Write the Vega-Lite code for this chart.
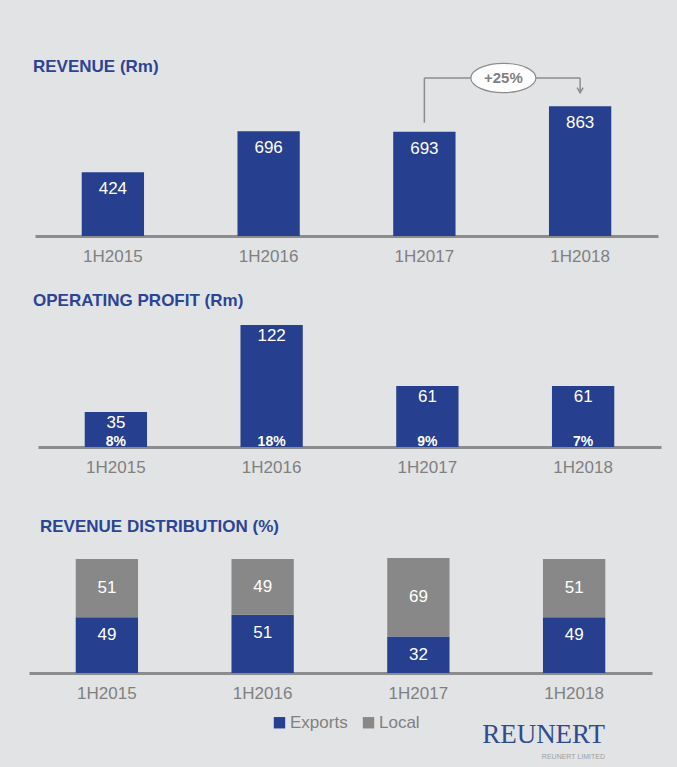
{
  "$schema": "https://vega.github.io/schema/vega-lite/v6.json",
  "background": "#e2e3e5",
  "padding": {"left": 29, "top": 58, "right": 20, "bottom": 10},
  "spacing": 26,
  "title": {
    "text": "REUNERT",
    "subtitle": "REUNERT LIMITED",
    "orient": "bottom",
    "anchor": "end",
    "frame": "bounds",
    "font": "Liberation Serif",
    "fontSize": 27,
    "fontWeight": "normal",
    "color": "#2e4c8f",
    "subtitleFont": "Liberation Sans",
    "subtitleFontSize": 7,
    "subtitleColor": "#a0a0a0",
    "subtitlePadding": 4,
    "baseline": "top",
    "offset": -9,
    "dx": -56
  },
  "config": {
    "font": "Liberation Sans",
    "view": {"stroke": null},
    "axisX": {"title": null, "domainColor": "#8c8c8c", "domainWidth": 3, "ticks": false, "labelColor": "#808080", "labelFontSize": 17, "labelFont": "Liberation Sans", "labelPadding": 12, "labelAngle": 0, "grid": false},
    "axisY": {"grid": false},
    "title": {"anchor": "start", "frame": "group", "baseline": "alphabetic", "offset": 0, "fontSize": 17, "fontWeight": "bold", "color": "#2b4594", "font": "Liberation Sans"},
    "legend": {"orient": "bottom", "direction": "horizontal", "symbolType": "square", "symbolSize": 130, "symbolStrokeWidth": 0, "labelFontSize": 17, "labelColor": "#808080", "labelFont": "Liberation Sans", "labelOffset": 2, "columnPadding": 12, "offset": 13, "layout": {"bottom": {"anchor": "middle"}}}
  },
  "vconcat": [
    {
      "width": 632,
      "height": 178,
      "title": {"text": "REVENUE (Rm)", "dx": 4, "dy": 22},
      "data": {"values": [
        {"period": "1H2015", "revenue": 424},
        {"period": "1H2016", "revenue": 696},
        {"period": "1H2017", "revenue": 693},
        {"period": "1H2018", "revenue": 863}
      ]},
      "layer": [
        {
          "mark": {"type": "bar", "color": "#263f8e"},
          "encoding": {
            "x": {"field": "period", "type": "nominal", "title": null, "scale": {"paddingInner": 0.6, "paddingOuter": 0.3, "range": [6, 629]}},
            "y": {"field": "revenue", "type": "quantitative", "scale": {"domain": [0, 1184], "nice": false}, "axis": null}
          }
        },
        {
          "mark": {"type": "text", "color": "white", "baseline": "top", "dy": 9, "fontSize": 17},
          "encoding": {
            "x": {"field": "period", "type": "nominal"},
            "y": {"field": "revenue", "type": "quantitative"},
            "text": {"field": "revenue", "type": "quantitative"}
          }
        },
        {
          "data": {"values": [{}]},
          "mark": {"type": "rule", "color": "#8c8c8c", "strokeWidth": 1.5},
          "encoding": {"x": {"datum": "1H2017", "type": "nominal"}, "y": {"datum": 753, "type": "quantitative"}, "y2": {"datum": 1051}}
        },
        {
          "data": {"values": [{}]},
          "mark": {"type": "rule", "color": "#8c8c8c", "strokeWidth": 1.5},
          "encoding": {"x": {"datum": "1H2018", "type": "nominal"}, "y": {"datum": 955, "type": "quantitative"}, "y2": {"datum": 1051}}
        },
        {
          "data": {"values": [{}]},
          "mark": {"type": "rule", "color": "#8c8c8c", "strokeWidth": 1.5},
          "encoding": {"x": {"datum": "1H2017", "type": "nominal"}, "x2": {"datum": "1H2018"}, "y": {"datum": 1051, "type": "quantitative"}}
        },
        {
          "data": {"values": [{}]},
          "mark": {"type": "point", "shape": "M -0.6 -1 L 0 0 L 0.6 -1", "filled": false, "color": "#8c8c8c", "strokeWidth": 1.5, "size": 100, "opacity": 1},
          "encoding": {"x": {"datum": "1H2018", "type": "nominal"}, "y": {"datum": 953, "type": "quantitative"}}
        },
        {
          "data": {"values": [{}]},
          "mark": {"type": "point", "shape": "M -1 0 A 1 0.45 0 1 0 1 0 A 1 0.45 0 1 0 -1 0 Z", "filled": true, "fill": "white", "stroke": "#8c8c8c", "strokeWidth": 1.2, "size": 4225, "opacity": 1, "fillOpacity": 1, "xOffset": 79},
          "encoding": {"x": {"datum": "1H2017", "type": "nominal"}, "y": {"datum": 1051, "type": "quantitative"}}
        },
        {
          "data": {"values": [{}]},
          "mark": {"type": "text", "text": "+25%", "fontWeight": "bold", "fontSize": 15, "color": "#7f7f7f", "xOffset": 79},
          "encoding": {"x": {"datum": "1H2017", "type": "nominal"}, "y": {"datum": 1051, "type": "quantitative"}}
        }
      ]
    },
    {
      "width": 632,
      "height": 157,
      "title": {"text": "OPERATING PROFIT (Rm)", "dx": 4, "dy": 24},
      "data": {"values": [
        {"period": "1H2015", "profit": 35, "margin": "8%"},
        {"period": "1H2016", "profit": 122, "margin": "18%"},
        {"period": "1H2017", "profit": 61, "margin": "9%"},
        {"period": "1H2018", "profit": 61, "margin": "7%"}
      ]},
      "layer": [
        {
          "mark": {"type": "bar", "color": "#263f8e"},
          "encoding": {
            "x": {"field": "period", "type": "nominal", "title": null, "scale": {"paddingInner": 0.6, "paddingOuter": 0.3, "range": [9, 632]}},
            "y": {"field": "profit", "type": "quantitative", "scale": {"domain": [0, 157], "nice": false}, "axis": null}
          }
        },
        {
          "mark": {"type": "text", "color": "white", "baseline": "top", "dy": 3, "fontSize": 17},
          "encoding": {
            "x": {"field": "period", "type": "nominal"},
            "y": {"field": "profit", "type": "quantitative"},
            "text": {"field": "profit", "type": "quantitative"}
          }
        },
        {
          "mark": {"type": "text", "color": "white", "baseline": "alphabetic", "dy": -1, "fontSize": 14, "fontWeight": "bold"},
          "encoding": {
            "x": {"field": "period", "type": "nominal"},
            "y": {"datum": 0, "type": "quantitative"},
            "text": {"field": "margin", "type": "nominal"}
          }
        }
      ]
    },
    {
      "width": 632,
      "height": 172,
      "title": {"text": "REVENUE DISTRIBUTION (%)", "dx": 11, "dy": 39},
      "data": {"values": [
        {"period": "1H2015", "type": "Exports", "value": 49},
        {"period": "1H2015", "type": "Local", "value": 51},
        {"period": "1H2016", "type": "Exports", "value": 51},
        {"period": "1H2016", "type": "Local", "value": 49},
        {"period": "1H2017", "type": "Exports", "value": 32},
        {"period": "1H2017", "type": "Local", "value": 69},
        {"period": "1H2018", "type": "Exports", "value": 49},
        {"period": "1H2018", "type": "Local", "value": 51}
      ]},
      "layer": [
        {
          "mark": {"type": "bar"},
          "encoding": {
            "x": {"field": "period", "type": "nominal", "title": null, "scale": {"paddingInner": 0.6, "paddingOuter": 0.3, "range": [0, 623]}},
            "y": {"field": "value", "type": "quantitative", "stack": "zero", "scale": {"domain": [0, 150.9], "nice": false}, "axis": null},
            "color": {"field": "type", "type": "nominal", "scale": {"domain": ["Exports", "Local"], "range": ["#263f8e", "#888888"]}, "legend": {"title": null}},
            "order": {"field": "type", "sort": "ascending"}
          }
        },
        {
          "mark": {"type": "text", "color": "white", "baseline": "middle", "fontSize": 17},
          "encoding": {
            "x": {"field": "period", "type": "nominal"},
            "y": {"field": "value", "type": "quantitative", "stack": "zero", "bandPosition": 0.5},
            "detail": {"field": "type", "type": "nominal"},
            "order": {"field": "type", "sort": "ascending"},
            "text": {"condition": {"test": "datum.type === 'Local'", "field": "value", "type": "quantitative"}, "value": ""}
          }
        },
        {
          "transform": [{"filter": "datum.type === 'Exports'"}],
          "mark": {"type": "text", "color": "white", "baseline": "top", "dy": 10, "fontSize": 17},
          "encoding": {
            "x": {"field": "period", "type": "nominal"},
            "y": {"field": "value", "type": "quantitative", "stack": null},
            "text": {"field": "value", "type": "quantitative"}
          }
        }
      ]
    }
  ]
}
